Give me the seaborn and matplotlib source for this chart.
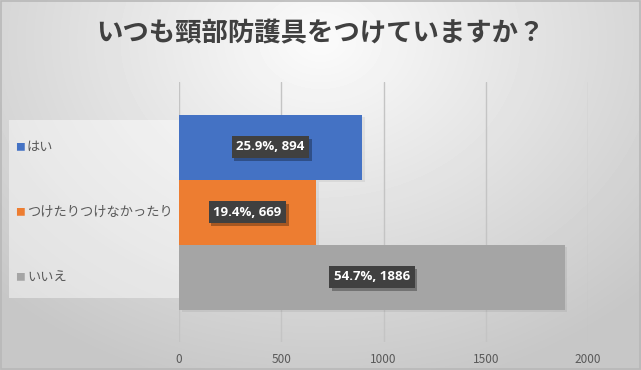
import numpy as np
import pandas as pd
import matplotlib
matplotlib.use("Agg")
import matplotlib.pyplot as plt
import matplotlib.patheffects as pe
from matplotlib.patches import Rectangle
import seaborn as sns

# data
categories = ["はい", "つけたりつけなかったり", "いいえ"]
counts = [894, 669, 1886]
colors = ["#4472C4", "#ED7D31", "#A5A5A5"]
title = "いつも頸部防護具をつけていますか？"

df = pd.DataFrame({"answer": categories, "count": counts})
pct = [100 * c / sum(counts) for c in counts]

sns.set_style("white")
plt.rcParams["font.family"] = ["Noto Sans CJK JP", "DejaVu Sans"]

fig = plt.figure(figsize=(6.41, 3.70), dpi=100)

# gradient background
bg = fig.add_axes([0, 0, 1, 1], zorder=-10)
yy, xx = np.mgrid[0:370, 0:641]
r = np.sqrt(((xx - 320) / 420.0) ** 2 + ((yy - 40) / 330.0) ** 2)
shade = np.clip(0.985 - 0.19 * r, 0.78, 1.0)
bg.imshow(shade, cmap="gray", vmin=0, vmax=1, aspect="auto", extent=[0, 1, 0, 1])
bg.add_patch(Rectangle((0.001, 0.002), 0.997, 0.995, fill=False,
                       edgecolor="#b8b8b8", lw=1.2, transform=bg.transAxes))
bg.axis("off")

# left label panel
fig.patches.append(Rectangle((9 / 641, 1 - 298 / 370), 170 / 641, 178 / 370,
                             transform=fig.transFigure, facecolor="white",
                             alpha=0.45, edgecolor="none", zorder=-5))

ax = fig.add_axes([179 / 641, 1 - 342 / 370, 409 / 641, 260 / 370])
ax.patch.set_alpha(0)

sns.barplot(data=df, x="count", y="answer", hue="answer", palette=colors,
            width=1.0, legend=False, ax=ax, zorder=3, saturation=1, linewidth=0)

# soft shadow on bars
for bar in ax.patches:
    bar.set_path_effects([pe.SimplePatchShadow(offset=(2, -1.5), alpha=0.06, shadow_rgbFace="black"),
                          pe.Normal()])

ax.set_xlim(0, 2000)
ax.set_ylim(3, -1)
ax.set_xticks([0, 500, 1000, 1500, 2000])
ax.grid(axis="x", color="#c4c4c4", lw=1, zorder=0)
ax.grid(axis="y", visible=False)
ax.set_xlabel("")
ax.set_ylabel("")
ax.set_yticks([])
for s in ax.spines.values():
    s.set_visible(False)
ax.tick_params(axis="x", length=0, pad=8, labelsize=8.5, labelcolor="#595959")

# category labels with colored squares
for i, (cat, col) in enumerate(zip(categories, colors)):
    ax.text((20 - 179) / 409, i, "■", color=col, fontsize=7, va="center", ha="center",
            transform=ax.get_yaxis_transform(), clip_on=False)
    ax.text((27 - 179) / 409, i, cat, color="#595959", fontsize=9.5, va="center", ha="left",
            transform=ax.get_yaxis_transform(), clip_on=False)

# data labels
for i, (c, p) in enumerate(zip(counts, pct)):
    t = ax.text(c / 2, i, f"{p:.1f}%, {c}", color="white", fontsize=9.5,
                fontweight="bold", family=["Open Sans", "DejaVu Sans"],
                ha="center", va="center", zorder=5,
                bbox=dict(boxstyle="square,pad=0.35", facecolor="#404040", edgecolor="none"))
    t.get_bbox_patch().set_path_effects([
        pe.SimplePatchShadow(offset=(2, -2), alpha=0.3, shadow_rgbFace="black"), pe.Normal()])

fig.text(0.5, 1 - 34 / 370, title, ha="center", va="center", fontsize=19,
         color="#404040", fontweight="bold")

fig.savefig("out.png", dpi=100)
